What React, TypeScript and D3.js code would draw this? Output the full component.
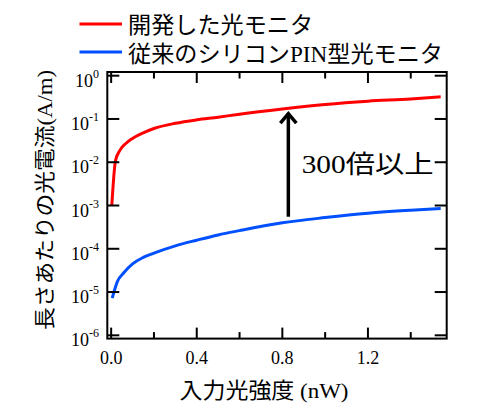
import * as d3 from "d3";

// input light power (nW) and photocurrent per length (A/m)
const devX = [0.003, 0.02, 0.04, 0.07, 0.1, 0.15, 0.2, 0.3, 0.4, 0.5, 0.6, 0.8, 1.0, 1.2, 1.4, 1.54];
const devY = [1.0e-3, 1.07e-2, 1.86e-2, 2.75e-2, 3.55e-2, 4.79e-2, 6.03e-2, 7.94e-2, 9.55e-2, 0.11, 0.129, 0.17, 0.216, 0.257, 0.29, 0.327];

const pinX = [0.005, 0.03, 0.06, 0.1, 0.15, 0.2, 0.3, 0.4, 0.5, 0.6, 0.8, 1.0, 1.2, 1.4, 1.54];
const pinY = [7.24e-6, 1.78e-5, 2.82e-5, 4.47e-5, 6.31e-5, 7.94e-5, 1.17e-4, 1.58e-4, 2.09e-4, 2.63e-4, 3.98e-4, 5.25e-4, 6.61e-4, 7.76e-4, 8.51e-4];

const legendLabels = [["開発した光モニタ"], ["従来のシリコン", "PIN", "型光モニタ"]];
const colors = ["#ff0000", "#0050ff"];

const xMajor = [0, 0.4, 0.8, 1.2];
const xMinor = [0.2, 0.6, 1.0, 1.4];
const yExps = [0, -1, -2, -3, -4, -5, -6];

// arrow annotation (data coords)
const arrowX = 0.828;
const arrowFrom = 5.5e-4;
const arrowTo = 0.143;

const SERIF = "Liberation Serif, DejaVu Serif, Times New Roman, serif";
const JP = "Noto Sans CJK JP, sans-serif";

// alternate CJK / latin pieces
const Mixed = ({ parts, latinFirst = false }: { parts: string[]; latinFirst?: boolean }) => (
  <>
    {parts.map((p, i) => (
      <tspan key={i} style={{ fontFamily: (i % 2 === 1) !== latinFirst ? SERIF : JP }}>
        {p}
      </tspan>
    ))}
  </>
);

export default function App() {
  const left = 107.3, right = 446.7, top = 72, bottom = 338.6;

  const x = d3.scaleLinear().domain([-0.018, 1.568]).range([left, right]);
  const y = d3.scaleLog().domain([10 ** -6.076, 10 ** 0.0855]).range([bottom, top]);

  const line = d3
    .line<[number, number]>()
    .x((d) => x(d[0]))
    .y((d) => y(d[1]))
    .curve(d3.curveMonotoneX);

  const series = [
    devX.map((v, i) => [v, devY[i]] as [number, number]),
    pinX.map((v, i) => [v, pinY[i]] as [number, number]),
  ];

  const ax = x(arrowX);
  const ay0 = y(arrowFrom);
  const ay1 = y(arrowTo);

  return (
    <svg
      width={488}
      height={418}
      style={{ position: "absolute", left: 0, top: 0, background: "#fff" }}
    >
      {/* legend */}
      {legendLabels.map((lab, i) => (
        <g key={i}>
          <line x1={79.5} x2={122} y1={24 + i * 28} y2={24 + i * 28} stroke={colors[i]} strokeWidth={3} />
          <text
            x={128}
            y={32.7 + i * 29}
            fontSize={23}
            textLength={i === 0 ? 185 : 315}
            lengthAdjust="spacingAndGlyphs"
          >
            <Mixed parts={lab} />
          </text>
        </g>
      ))}

      {/* curves */}
      {series.map((s, i) => (
        <path key={i} d={line(s) ?? ""} fill="none" stroke={colors[i]} strokeWidth={3} />
      ))}

      {/* frame */}
      <rect x={left} y={top} width={right - left} height={bottom - top} fill="none" stroke="#000" strokeWidth={2} />

      {/* x ticks */}
      {xMajor.concat(xMinor).map((v) => {
        const len = xMajor.includes(v) ? 11 : 6.5;
        return (
          <g key={"xt" + v}>
            <line x1={x(v)} x2={x(v)} y1={bottom} y2={bottom - len} stroke="#000" strokeWidth={2} />
            <line x1={x(v)} x2={x(v)} y1={top} y2={top + len} stroke="#000" strokeWidth={2} />
          </g>
        );
      })}
      {xMajor.map((v) => (
        <text key={"xl" + v} x={x(v)} y={363.5} fontSize={18} textAnchor="middle" style={{ fontFamily: SERIF }}>
          {d3.format(".1f")(v)}
        </text>
      ))}

      {/* y ticks */}
      {yExps.map((e) => (
        <g key={"yt" + e}>
          <line x1={left} x2={left + 12} y1={y(10 ** e)} y2={y(10 ** e)} stroke="#000" strokeWidth={2} />
          <line x1={right} x2={right - 12} y1={y(10 ** e)} y2={y(10 ** e)} stroke="#000" strokeWidth={2} />
          <text x={99} y={y(10 ** e) + 11} fontSize={18} textAnchor="end" style={{ fontFamily: SERIF }}>
            10
            <tspan dy={-9} fontSize={12}>
              {e === 0 ? "0" : "-" + -e}
            </tspan>
          </text>
        </g>
      ))}

      {/* arrow */}
      <line x1={ax} x2={ax} y1={ay0} y2={ay1 + 1} stroke="#000" strokeWidth={3.5} />
      <path
        d={`M${ax - 8},${ay1 + 11} L${ax},${ay1 + 1.5} L${ax + 8},${ay1 + 11}`}
        fill="none"
        stroke="#000"
        strokeWidth={3.5}
      />
      <text x={301.7} y={173.3} fontSize={25} textLength={132} lengthAdjust="spacingAndGlyphs">
        <Mixed parts={["300", "倍以上"]} latinFirst />
      </text>

      {/* axis titles */}
      <text x={264} y={397.5} fontSize={22} textAnchor="middle" textLength={169} lengthAdjust="spacingAndGlyphs">
        <Mixed parts={["入力光強度", " (nW)"]} />
      </text>
      <text
        transform="translate(51.5,200) rotate(-90)"
        fontSize={21}
        textAnchor="middle"
        textLength={260}
        lengthAdjust="spacingAndGlyphs"
      >
        <Mixed parts={["長さあたりの光電流", "(A/m)"]} />
      </text>
    </svg>
  );
}
